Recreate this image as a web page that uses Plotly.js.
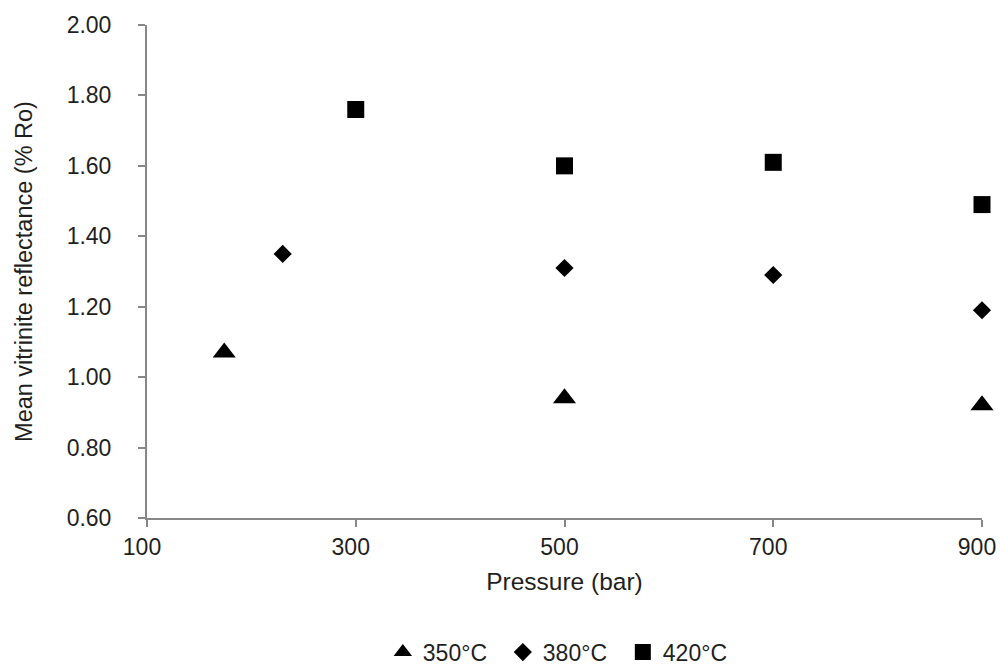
<!DOCTYPE html>
<html>
<head>
<meta charset="utf-8">
<script src="https://cdn.plot.ly/plotly-3.0.1.min.js"></script>
<style>html,body{margin:0;padding:0;background:#fff;}#chart{width:1000px;height:668px;}</style>
</head>
<body>
<div id="chart"></div>
<script>
const seriesNames = ["350°C", "380°C", "420°C"];
const pressure350 = [174, 500, 900];
const ro350 = [1.07, 0.94, 0.92];
const pressure380 = [230, 500, 700, 900];
const ro380 = [1.35, 1.31, 1.29, 1.19];
const pressure420 = [300, 500, 700, 900];
const ro420 = [1.76, 1.60, 1.61, 1.49];
const xTicks = [100, 300, 500, 700, 900];
const yTicks = [0.6, 0.8, 1.0, 1.2, 1.4, 1.6, 1.8, 2.0];

const fam = "Liberation Sans, Arial, sans-serif";
const tickFont = {family: fam, size: 23, color: "#1f1f1f"};
const xTitleFont = {family: fam, size: 24.5, color: "#1f1f1f"};
const yTitleFont = {family: fam, size: 23.5, color: "#1f1f1f"};
const legendFont = {family: fam, size: 23, color: "#1f1f1f"};
const traces = [
  {x: pressure350, y: ro350, name: seriesNames[0], type: "scatter", mode: "markers",
   marker: {symbol: "triangle-up", size: 20, color: "#000"}, cliponaxis: false},
  {x: pressure380, y: ro380, name: seriesNames[1], type: "scatter", mode: "markers",
   marker: {symbol: "diamond", size: 14, color: "#000"}, cliponaxis: false},
  {x: pressure420, y: ro420, name: seriesNames[2], type: "scatter", mode: "markers",
   marker: {symbol: "square", size: 17, color: "#000"}, cliponaxis: false}
];
const layout = {
  width: 1000, height: 668,
  margin: {l: 147, r: 18, t: 25, b: 150, autoexpand: false},
  paper_bgcolor: "#fff", plot_bgcolor: "#fff",
  font: tickFont,
  showlegend: true,
  legend: {orientation: "h", x: 0.498, xanchor: "center", y: -0.272, yanchor: "middle",
           font: legendFont, entrywidth: 75, tracegroupgap: 0},
  xaxis: {
    range: [100, 900], tickvals: xTicks, ticktext: xTicks.map(String),
    showgrid: false, zeroline: false, showline: true, linecolor: "#878787", linewidth: 2,
    ticks: "outside", ticklen: 7, tickwidth: 2, tickcolor: "#878787",
    tickfont: tickFont, ticklabelshift: -5, automargin: false,
    title: {text: "Pressure (bar)", font: xTitleFont, standoff: 14}
  },
  yaxis: {
    range: [0.6, 2.0], tickvals: yTicks, ticktext: yTicks.map(v => v.toFixed(2)),
    showgrid: false, zeroline: false, showline: true, linecolor: "#878787", linewidth: 2,
    ticks: "outside", ticklen: 7, tickwidth: 2, tickcolor: "#878787",
    tickfont: tickFont, ticklabelstandoff: 22, automargin: false,
    title: {text: "Mean vitrinite reflectance (% Ro)", font: yTitleFont, standoff: 27}
  }
};
Plotly.newPlot("chart", traces, layout, {displayModeBar: false, staticPlot: true});
</script>
</body>
</html>
